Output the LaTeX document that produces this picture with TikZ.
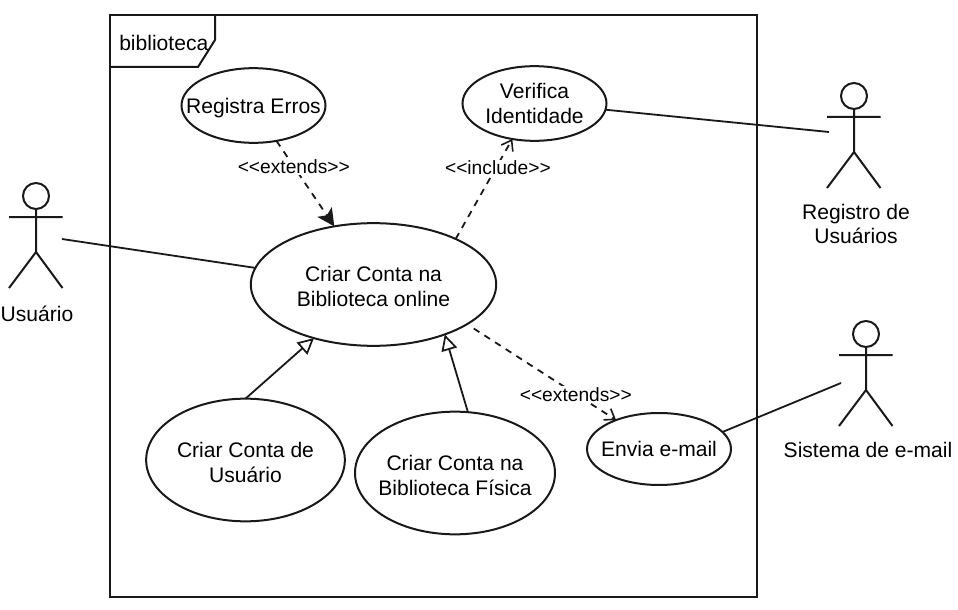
\documentclass[tikz,border=0pt]{standalone}
\usepackage{fontspec}
\setmainfont{Liberation Sans}
\usetikzlibrary{shapes.geometric,arrows.meta}
\newcommand{\uctext}[2][-2pt]{\raisebox{#1}[\height][\depth]{\begin{tabular}[c]{@{}c@{}}#2\end{tabular}}}
\tikzset{
  ln/.style={line width=1.5pt,draw=black!90},
  usecase/.style={ellipse,ln,inner sep=-30pt,outer sep=0pt,font=\fontsize{15.8pt}{18.5pt}\selectfont},
  conn/.style={line width=1.35pt,draw=black!90},
  dep/.style={conn,dash pattern=on 5pt off 4.5pt},
  stereo/.style={fill=white,inner ysep=1pt,inner xsep=0pt,font=\fontsize{14.4pt}{16pt}\selectfont},
  actorlabel/.style={align=center,inner sep=0pt,font=\fontsize{15.8pt}{18.5pt}\selectfont},
  openhead/.style={-{Straight Barb[length=7pt,width=10pt,line width=1.2pt]}},
  fillhead/.style={-{Stealth[length=13pt,width=13pt,inset=3pt]}},
  genhead/.style={-{Triangle[open,length=12pt,width=12pt,line width=1.3pt,fill=white]}},
  pics/actor/.style={code={
    \draw[ln] (0,0) circle[radius=13];
    \draw[ln] (-27,21) -- (26.5,21) (0,13) -- (0,56) (-27,92) -- (0,56) -- (26.5,92);
  }}
}
\begin{document}
\begin{tikzpicture}[x=0.75pt,y=-0.75pt]
\useasboundingbox[fill=white] (0,0) rectangle (958,610);
% frame
\draw[ln] (110,15) rectangle (757,597);
\draw[ln] (110,67) -- (198,67) -- (215,40) -- (215,15);
\node[anchor=west,inner sep=0pt,font=\fontsize{15.8pt}{18.5pt}\selectfont] (frameTitle) at (119,43) {biblioteca};
% use cases
\node[usecase,minimum width=108pt,minimum height=56pt] (erros) at (253.5,105.5) {\uctext[-2.6pt]{Registra Erros}};
\node[usecase,minimum width=108pt,minimum height=56pt] (verifica) at (534.5,103.5) {\uctext{Verifica\\Identidade}};
\node[usecase,minimum width=184pt,minimum height=92pt] (online) at (373.5,284.5) {\uctext[-3.2pt]{Criar Conta na\\Biblioteca online}};
\node[usecase,minimum width=149pt,minimum height=92pt] (contaUsuario) at (245.5,460) {\uctext[-3.6pt]{Criar Conta de\\Usuário}};
\node[usecase,minimum width=150pt,minimum height=92pt] (fisica) at (455,473) {\uctext[-3.6pt]{Criar Conta na\\Biblioteca Física}};
\node[usecase,minimum width=108pt,minimum height=54pt] (email) at (659,449) {\uctext{Envia e-mail}};
% actors
\pic at (36,196) {actor};
\pic at (854,96) {actor};
\pic at (866,334) {actor};
\coordinate (aUsuario) at (62,239);
\coordinate (aRegistro) at (829,132);
\coordinate (aSistema) at (841,383);
\node[actorlabel] (lUsuario) at (37,314) {Usuário};
\node[actorlabel] (lRegistro) at (856,224) {Registro de\\Usuários};
\node[actorlabel] (lSistema) at (868,450) {Sistema de e-mail};
% associations
\draw[conn] (aUsuario) -- (online.172);
\draw[conn] (verifica.-5) -- (aRegistro);
\draw[conn] (email.15.6) -- (aSistema);
% dependencies
\draw[dep,fillhead] (erros.-57) -- node[stereo,pos=.3] (s1) {<{}<extends>{}>} (online.124);
\draw[dep,openhead] (online.29.6) -- node[stereo,pos=.71,xshift=1.5pt] (s2) {<{}<include>{}>} (verifica.-122.4);
\draw[dep,openhead,shorten <=6pt] (online.-23) -- node[stereo,pos=.73] (s3) {<{}<extends>{}>} (email.146);
% generalisations
\draw[conn,genhead] (contaUsuario.90) -- (online.-138);
\draw[conn,genhead] (fisica.78) -- (online.-35);
\end{tikzpicture}
\end{document}
